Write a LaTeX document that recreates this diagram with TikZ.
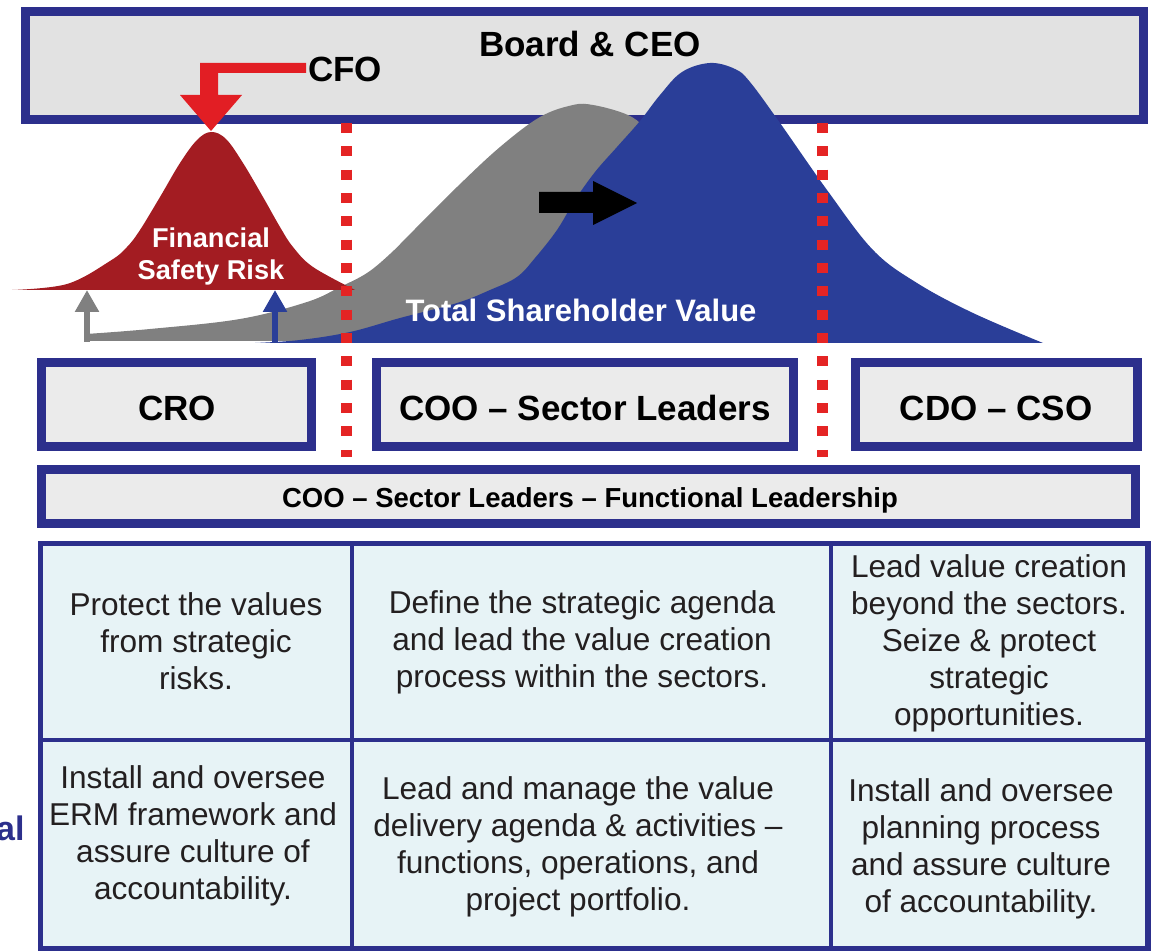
\documentclass[tikz,border=0pt]{standalone}
\usepackage{fontspec}
\setmainfont{Liberation Sans}
\usetikzlibrary{arrows.meta}
\definecolor{bblue}{RGB}{44,47,140}
\definecolor{sblue}{RGB}{42,62,152}
\definecolor{bellred}{RGB}{163,28,34}
\definecolor{arrred}{RGB}{226,30,36}
\definecolor{dotred}{RGB}{228,36,36}
\definecolor{graysh}{RGB}{128,128,128}
\definecolor{boardfill}{RGB}{226,226,226}
\definecolor{boxfill}{RGB}{235,235,235}
\definecolor{cellfill}{RGB}{231,243,246}
\definecolor{textc}{RGB}{35,31,32}
\begin{document}
\begin{tikzpicture}[x=0.5pt,y=-0.5pt,
  frame/.style={draw=bblue, line width=4.5pt, fill=boxfill, inner sep=0pt, outer sep=0pt},
  bigt/.style={font=\fontsize{17.5}{21}\selectfont\bfseries, text=black, inner sep=0pt},
  midt/.style={font=\fontsize{13.75}{16}\selectfont\bfseries, text=black, inner sep=0pt},
  cell/.style={font=\fontsize{15.8}{18.5}\selectfont, text=textc, align=center, inner sep=0pt},
  sep/.style={draw=dotred, line width=5.5pt, dash pattern=on 5pt off 6.67pt},
  uparrow/.style={line width=3pt, -{Triangle[width=11.5pt,length=11pt]}}
]
\useasboundingbox (0,0) rectangle (1154,951);

% Board
\node[frame, fill=boardfill, minimum width=559pt, minimum height=54pt] (board) at (584,66) {};
\node[bigt, anchor=base] (boardt) at (590,57) {Board \& CEO};

% gray (previous) value curve
\fill[graysh] (84,341) -- plot[smooth, tension=0.6] coordinates {(86,334) (150,329) (240,319) (307,302) (340,287) (367,273) (390,254) (413,231) (457,187) (500,147) (540,117) (573,105) (593,105) (623,113) (640,123) (652,140)} -- (600,341) -- cycle;

% blue total shareholder value curve
\fill[sblue] plot[smooth, tension=0.6] coordinates {(255,343) (300,340) (350,332) (400,318) (457,303) (490,290) (517,277) (535,258) (557,230) (575,200) (595,172) (617,147) (640,121) (660,95) (682,72) (710,63) (735,69) (750,82) (780,123) (827,190) (873,250) (917,283) (973,313) (1043,343)} -- cycle;

% red financial safety risk bell
\fill[bellred] plot[smooth, tension=0.6] coordinates {(12,290) (67,284) (110,261) (127,247) (140,230) (160,197) (180,163) (197,140) (211,132) (226,139) (243,163) (263,197) (280,227) (293,247) (313,267) (355,290)} -- cycle;

% black shift arrow
\fill[black] (539,192) -- (593,192) -- (593,181) -- (637,203) -- (593,225) -- (593,213) -- (539,213) -- cycle;

% CFO elbow arrow
\node[bigt, anchor=base] (cfo) at (345,82) {CFO};
\fill[arrred] (306,63) -- (200,63) -- (200,95) -- (180,95) -- (211,131) -- (242,95) -- (218,95) -- (218,73) -- (306,73) -- cycle;

% small up arrows
\coordinate (gbase) at (87,342);
\coordinate (gtip) at (87,290);
\coordinate (bbase) at (275,343);
\coordinate (btip) at (275,290);
\draw[uparrow, graysh] (gbase) -- (gtip);
\draw[uparrow, sblue] (bbase) -- (btip);

% labels in curves
\node[font=\fontsize{13.6}{16}\selectfont\bfseries, text=white, align=center, inner sep=0pt] (fsr) at (211,256) {Financial\\Safety Risk};
\node[font=\fontsize{15.5}{18}\selectfont\bfseries, text=white, anchor=base, inner sep=0pt] (tsv) at (581,322) {Total Shareholder Value};

% dotted separators
\coordinate (s1t) at (346,123);
\coordinate (s1b) at (346,457);
\coordinate (s2t) at (822,123);
\coordinate (s2b) at (822,457);
\draw[sep] (s1t) -- (s1b);
\draw[sep] (s2t) -- (s2b);

% role boxes
\node[frame, minimum width=135pt, minimum height=42pt] (cro) at (176.5,404.5) {};
\node[frame, minimum width=208.5pt, minimum height=42pt] (coo) at (585,404.5) {};
\node[frame, minimum width=141pt, minimum height=42pt] (cdo) at (996.5,404.5) {};
\node[bigt, anchor=base] (crot) at (177,420) {CRO};
\node[bigt, anchor=base] (coot) at (585,420) {COO – Sector Leaders};
\node[bigt, anchor=base] (cdot) at (996,420) {CDO – CSO};

\node[frame, minimum width=547pt, minimum height=27pt] (func) at (588.5,496.5) {};
\node[midt, anchor=base] (funct) at (590,507) {COO – Sector Leaders – Functional Leadership};

% table
\fill[cellfill] (40.5,543.5) rectangle (1148,948.5);
\draw[bblue, line width=2pt] (352,543.5) -- (352,948.5);
\draw[bblue, line width=2pt] (831,543.5) -- (831,948.5);
\draw[bblue, line width=2pt] (40.5,740) -- (1148,740);
\draw[bblue, line width=2.75pt] (40.5,543.5) rectangle (1148,948.5);

\node[cell] (c11) at (196,641) {Protect the values\\from strategic\\risks.};
\node[cell] (c12) at (582,642) {Define the strategic agenda\\and lead the value creation\\process within the sectors.};
\node[cell] (c13) at (989,643) {Lead value creation\\beyond the sectors.\\Seize \& protect\\strategic\\opportunities.};
\node[cell] (c21) at (193,836) {Install and oversee\\ERM framework and\\assure culture of\\accountability.};
\node[cell] (c22) at (578,847) {Lead and manage the value\\delivery agenda \& activities –\\functions, operations, and\\project portfolio.};
\node[cell] (c23) at (981,849) {Install and oversee\\planning process\\and assure culture\\of accountability.};

\node[font=\fontsize{17}{20}\selectfont\bfseries, text=bblue, anchor=base east, inner sep=0pt] (al) at (25,840) {al};
\end{tikzpicture}
\end{document}
